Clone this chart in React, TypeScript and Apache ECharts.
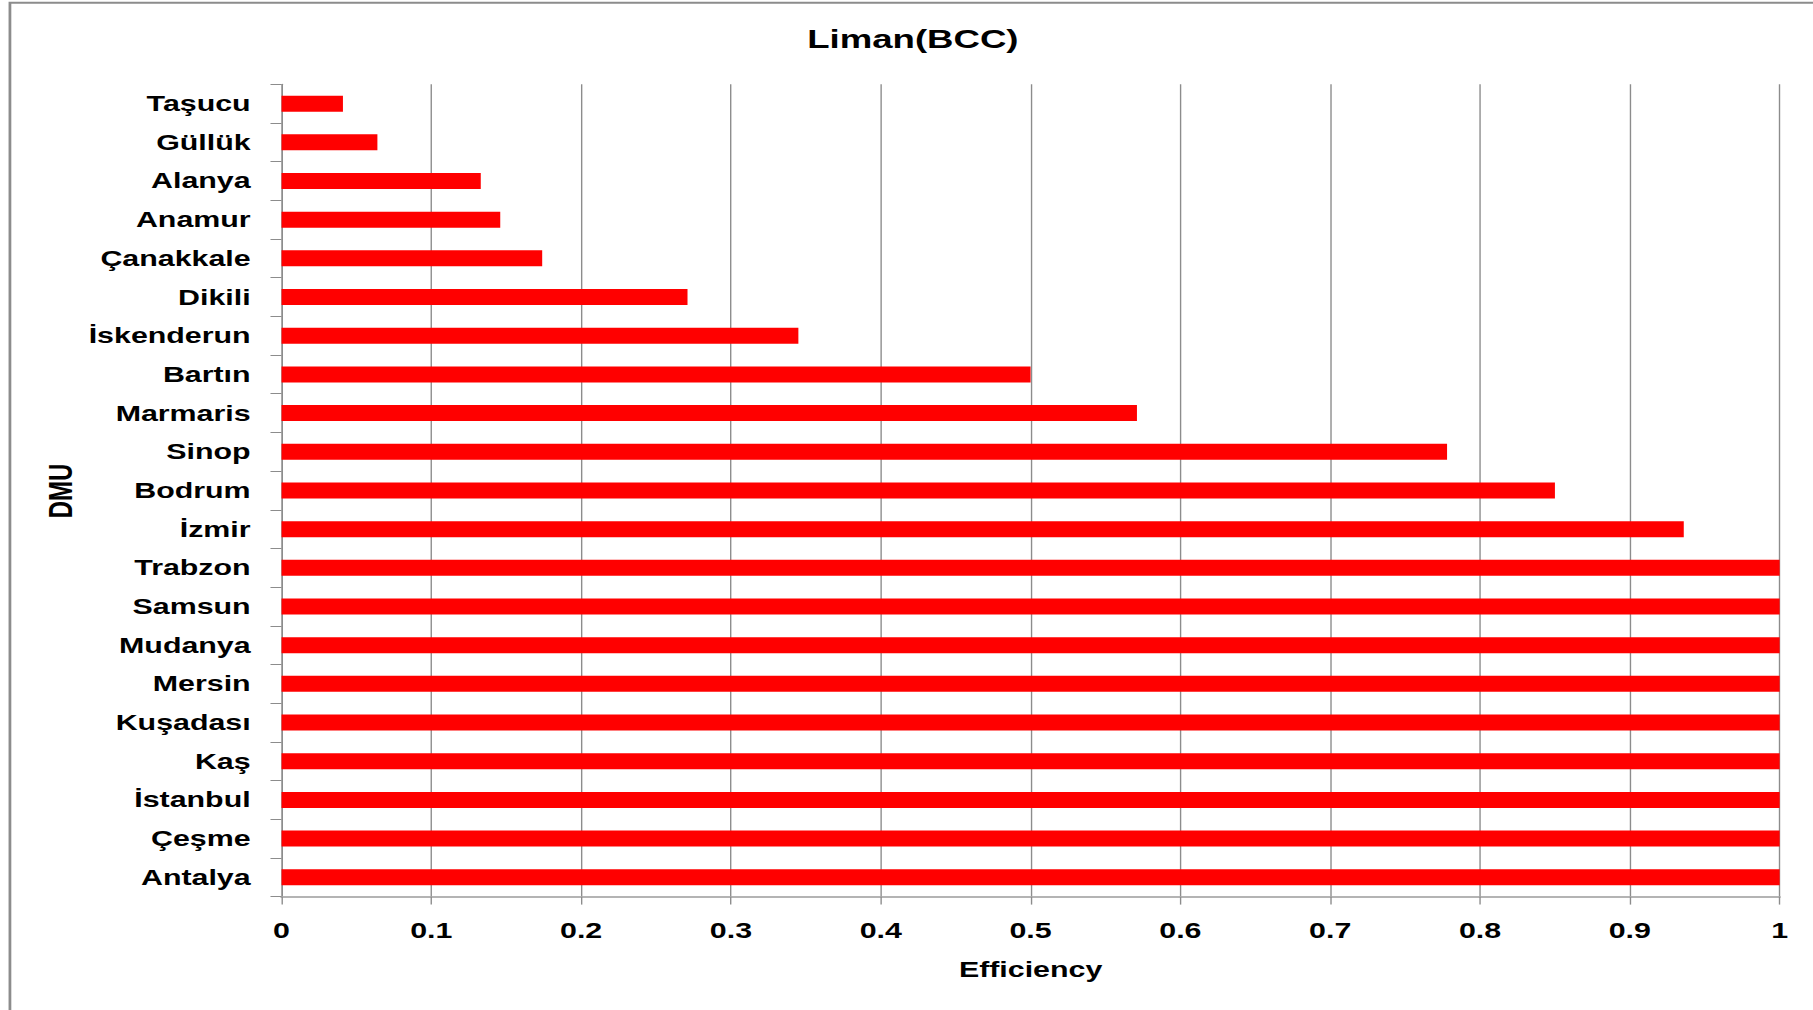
import React, { useEffect, useRef } from "react";
import * as echarts from "echarts";

// Port names, listed from top to bottom
const ports = [
  "Taşucu",
  "Güllük",
  "Alanya",
  "Anamur",
  "Çanakkale",
  "Dikili",
  "İskenderun",
  "Bartın",
  "Marmaris",
  "Sinop",
  "Bodrum",
  "İzmir",
  "Trabzon",
  "Samsun",
  "Mudanya",
  "Mersin",
  "Kuşadası",
  "Kaş",
  "İstanbul",
  "Çeşme",
  "Antalya",
];

// BCC efficiency score for each port
const efficiency = [
  0.041, 0.064, 0.133, 0.146, 0.174, 0.271, 0.345, 0.5, 0.571, 0.778, 0.85,
  0.936, 1, 1, 1, 1, 1, 1, 1, 1, 1,
];

const xTickLabels = ["0", "0.1", "0.2", "0.3", "0.4", "0.5", "0.6", "0.7", "0.8", "0.9", "1"];

const chartTitle = "Liman(BCC)";
const xAxisTitle = "Efficiency";
const yAxisTitle = "DMU";

// The drawing is laid out on a narrower canvas and widened horizontally.
const PAGE_W = 1813;
const PAGE_H = 1010;
const STRETCH = 1.38;
const INNER_W = Math.round(PAGE_W / STRETCH);

const FONT = "'Liberation Sans', Arial, sans-serif";

export default function App() {
  const ref = useRef<HTMLDivElement>(null);

  useEffect(() => {
    if (!ref.current) return;
    const chart = echarts.init(ref.current, null, { renderer: "svg" });
    chart.setOption({
      animation: false,
      backgroundColor: "#ffffff",
      textStyle: { fontFamily: FONT },
      grid: {
        left: 204,
        right: INNER_W - 1289.6,
        top: 84.3,
        bottom: PAGE_H - 896.6,
        containLabel: false,
      },
      xAxis: {
        type: "value",
        min: 0,
        max: 1,
        interval: 0.1,
        name: xAxisTitle,
        nameLocation: "middle",
        nameGap: 61.5,
        nameTextStyle: {
          fontFamily: FONT,
          fontWeight: "bold",
          fontSize: 22,
          color: "#000000",
        },
        axisLine: { show: true, lineStyle: { color: "#b4b4b4", width: 2 } },
        axisTick: {
          show: true,
          length: 8,
          lineStyle: { color: "#8c8c8c", width: 1 },
        },
        axisLabel: {
          margin: 23,
          fontFamily: FONT,
          fontWeight: "bold",
          fontSize: 22,
          color: "#000000",
          formatter: (v: number) => xTickLabels[Math.round(v * 10)] ?? String(v),
        },
        splitLine: {
          show: true,
          lineStyle: { color: "#8c8c8c", width: 1 },
        },
      },
      yAxis: {
        type: "category",
        data: ports,
        inverse: true,
        axisLine: { show: true, lineStyle: { color: "#8c8c8c", width: 1 } },
        axisTick: {
          show: true,
          length: 8,
          lineStyle: { color: "#8c8c8c", width: 1 },
        },
        axisLabel: {
          margin: 22.4,
          fontFamily: FONT,
          fontWeight: "bold",
          fontSize: 22,
          color: "#000000",
          interval: 0,
        },
        splitLine: { show: false },
      },
      series: [
        {
          type: "bar",
          data: efficiency,
          barWidth: 16,
          itemStyle: { color: "#ff0000" },
          silent: true,
        },
      ],
      graphic: [
        {
          type: "rect",
          silent: true,
          z: -1,
          shape: { x: 7.2, y: 2.7, width: INNER_W + 100, height: PAGE_H + 100 },
          style: { fill: "none", stroke: "#8c8c8c", lineWidth: 2 },
        },
        {
          type: "text",
          x: 661.5,
          y: 39,
          style: {
            text: chartTitle,
            fontFamily: FONT,
            fontWeight: "bold",
            fontSize: 26.5,
            fill: "#000000",
            align: "center",
            verticalAlign: "middle",
          },
        },
        {
          type: "text",
          x: 44,
          y: 491,
          rotation: Math.PI / 2,
          style: {
            text: yAxisTitle,
            fontFamily: FONT,
            fontWeight: "bold",
            fontSize: 24,
            fill: "#000000",
            align: "center",
            verticalAlign: "middle",
          },
        },
      ],
    });
    return () => chart.dispose();
  }, []);

  return (
    <div
      style={{
        position: "fixed",
        left: 0,
        top: 0,
        width: PAGE_W,
        height: PAGE_H,
        overflow: "hidden",
        background: "#ffffff",
      }}
    >
      <div
        ref={ref}
        style={{
          width: INNER_W,
          height: PAGE_H,
          transform: `scaleX(${STRETCH})`,
          transformOrigin: "0 0",
        }}
      />
    </div>
  );
}
